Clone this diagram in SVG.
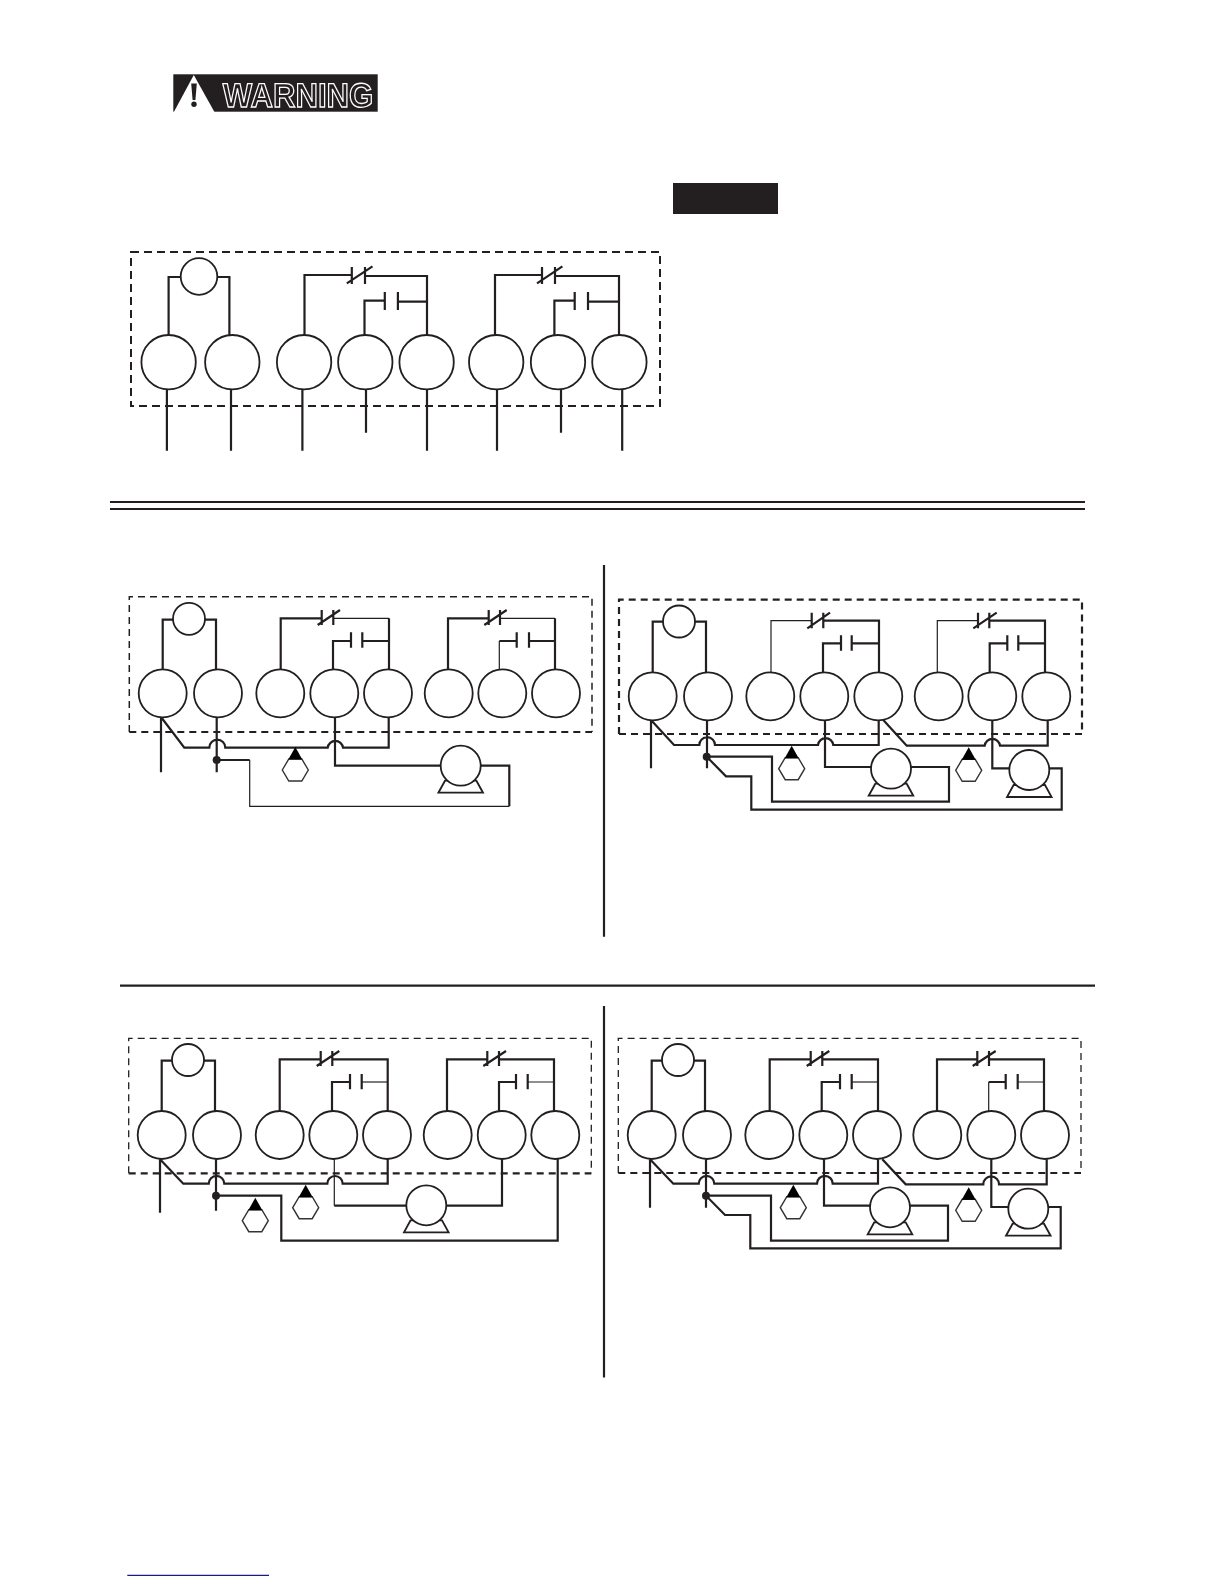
<svg xmlns="http://www.w3.org/2000/svg" width="1224" height="1584" viewBox="0 0 1224 1584">
<style>
.w{fill:none;stroke:#231f20;stroke-width:2.2}
.t{fill:none;stroke:#231f20;stroke-width:1.2}
.n{fill:#fff;stroke:#231f20;stroke-width:1.8}
.d{fill:none;stroke:#231f20;stroke-width:2;stroke-dasharray:8 5}
.m{fill:none;stroke:#231f20;stroke-width:1.5;stroke-dasharray:7 5}
.l{fill:none;stroke:#231f20;stroke-width:1.3;stroke-dasharray:7 5}
.b{fill:none;stroke:#231f20;stroke-width:2.2;stroke-dasharray:7 5}
.r{stroke:#231f20;stroke-width:2.2}
.k{fill:#231f20}
.tri{fill:#000}
.hex{fill:#fff;stroke:#333;stroke-width:1.4}
.foot{fill:none;stroke:#231f20;stroke-width:1.8}
</style>
<defs>
<filter id="gray" x="0" y="0" width="1" height="1"><feOffset dx="0" dy="0"/></filter>
<g id="haz"><polygon class="hex" points="-13,11 -6.5,0 6.5,0 13,11 6.5,22 -6.5,22"/><polygon class="tri" points="0,-12 -7,0.5 7,0.5"/></g>
<g id="mot"><polygon class="foot" points="-15.7,15 -22.3,27 22.3,27 15.7,15"/><circle class="n" r="20"/></g>
</defs>

<g id="warning">
<rect x="173.3" y="74.3" width="204.4" height="37.4" fill="#231f20"/>
<polygon points="193.8,75 173.3,113 215,113" fill="#fff"/>
<polygon points="191.2,83.5 196.8,83.5 195.4,100 192.6,100" fill="#231f20"/>
<circle cx="194" cy="104.2" r="2.7" fill="#231f20"/>
<g filter="url(#gray)"><text x="222.7" y="106.7" font-family="'Liberation Sans',Arial,sans-serif" font-weight="bold" font-size="34" textLength="150.6" lengthAdjust="spacingAndGlyphs" fill="#231f20" stroke="#fff" stroke-width="1.3" text-rendering="geometricPrecision">WARNING</text></g>
</g>
<rect id="black-box" x="673" y="183" width="105" height="31" fill="#231f20"/>

<g id="rules">
<line class="r" x1="110" y1="502" x2="1085" y2="502"/>
<line class="r" x1="110" y1="509" x2="1085" y2="509"/>
<line class="r" x1="120" y1="985.7" x2="1095" y2="985.7"/>
<line class="r" x1="604" y1="565" x2="604" y2="936.7"/>
<line class="r" x1="604" y1="1006" x2="604" y2="1377.5"/>
<line x1="127.3" y1="1575.3" x2="269" y2="1575.3" stroke="#1a1a8c" stroke-width="1.2"/>
</g>

<g id="connectors">
<!-- top -->
<rect class="d" x="131" y="252" width="529" height="154"/>
<path class="w" d="M168.6 335V277H181M217 277H229.4V335"/>
<path class="w" d="M304.5 335V275H351M351.8 267V284M365 267V284M346.8 283.3L372.5 266.3M365 276H427V335"/>
<path class="w" d="M364.5 335V300.7H384.8M384.8 292V310M397.9 292V310M397.9 301.7H427"/>
<path class="w" d="M495 335V275H542M542 267V284M555 267V284M537 283.3L562.4 266.3M555 276H619V335"/>
<path class="w" d="M554.4 335V300.7H574.7M574.7 292V310M588 292V310M588 301.7H619"/>
<path class="w" d="M166.9 389V450.7M231 389V450.7M302.4 389V450.7M366 389V432.7M427 389V450.7M497 389V450.7M561 389V432.7M622.2 389V450.7"/>

<!-- A -->
<path class="m" d="M129.3 732V596.7H592V732"/>
<path class="b" d="M129.3 732H592"/>
<path class="w" d="M162.7 670V619.7H173M205 619.7H216V670"/>
<path class="w" d="M280.7 670V618.3H321.7M321.7 610V625M333.3 610V625M317.7 625L340 610"/>
<path class="t" d="M333.3 618.3H389"/>
<path class="w" d="M389 618.3V670M333 670V641H351M351 632.3V647.7M362.3 632.3V647.7M362.3 641H389"/>
<path class="w" d="M448 670V618.3H488.7M488.7 610V625M500 610V625M484.3 625L506.7 610"/>
<path class="t" d="M500 618.3H555M499.3 670V641"/>
<path class="w" d="M555 618.3V670M499.3 641H516.7M516.7 632.3V647.7M529 632.3V647.7M529 641H555"/>
<path class="w" d="M161 717V772.3M216.7 717V772.3M161 717L184.3 747.7H209.3A8 8 0 0 1 225.3 747.7H327.7A7.7 7.7 0 0 1 343 747.7H388.7V717.3M335 717V765.7H440.7"/>
<path class="w" d="M480.7 765.7H509.3V806.3"/>
<path class="t" d="M509.3 806.3H249.7V760"/>
<path class="w" d="M249.7 760H216.7"/>
<circle class="k" cx="216.7" cy="760" r="4"/>

<!-- B -->
<path class="b" d="M619 734V599.7H1082V734"/>
<path class="b" d="M619 734H1082"/>
<path class="w" d="M652.7 672V621.7H663M695 621.7H706V672"/>
<path class="t" d="M771 672V620.7H811.7"/>
<path class="w" d="M811.7 612.7V628.3M823.3 612.7V628.3M807.3 628.3L830 612.7M823.3 620.7H879V672.3"/>
<path class="w" d="M823 672.3V643.3H841M841 635.3V650.7M851.7 635.3V650.7M851.7 643.3H879"/>
<path class="t" d="M937.3 672V620.7H978"/>
<path class="w" d="M978 612.7V628.3M989.3 612.7V628.3M973.3 628.3L996.7 612.7M989.3 620.7H1045V672.3"/>
<path class="w" d="M989.7 672.3V643.3H1007.3M1007.3 635.3V650.7M1018.3 635.3V650.7M1018.3 643.3H1045"/>
<path class="w" d="M651 720V768.3M707 720V768.3M651 720L674 745H699.3A7.8 7.8 0 0 1 715 745H818A7.7 7.7 0 0 1 833.3 745H878.7V720M825 720V767H871M911 767H949V801.7H772V756.7H706.7L726 776.3H751.3V809.7H1061.7V768.3H1049.3"/>
<path class="w" d="M992.3 720V768.3H1009.3M883.3 720L906.7 745.7H984.7A7.7 7.7 0 0 1 1000 745.7H1047.7V720"/>
<circle class="k" cx="706.7" cy="756.7" r="4"/>

<!-- C -->
<path class="l" d="M128.7 1173.3V1038.3H591.3V1173.3"/>
<path class="b" d="M128.7 1173.3H591.3"/>
<path class="w" d="M161.7 1111V1060.7H172M204 1060.7H215V1111"/>
<path class="w" d="M279.7 1111V1059.3H320.7M320.7 1051V1066M332.3 1051V1066M316.7 1066L339.3 1051M332.3 1059.3H387.7V1111"/>
<path class="w" d="M332 1111V1082H350M350 1074V1089.3M361.7 1074V1089.3"/>
<path class="t" d="M361.7 1082H387.7"/>
<path class="w" d="M447 1111V1059.3H487.3M487.3 1051V1066M499 1051V1066M483.3 1066L506 1051M499 1059.3H554V1111"/>
<path class="w" d="M499 1111V1082H516M516 1074V1089.3M527.7 1074V1089.3"/>
<path class="t" d="M527.7 1082H554M334.3 1159V1205.7"/>
<path class="w" d="M334.3 1205.7H406.7M160 1159.3V1212.7M216 1159.3V1210.7M160 1159.3L183.3 1183.7H208.7A7.8 7.8 0 0 1 224.3 1183.7H327.3A7.7 7.7 0 0 1 342.7 1183.7H387.7V1159M446.3 1205.7H502V1158.3M216 1195.7H281.3V1240.7H557.7V1158.3"/>
<circle class="k" cx="216" cy="1195.7" r="4"/>

<!-- D -->
<path class="l" d="M618.3 1173V1038.3H1081V1173"/>
<path class="b" d="M618.3 1173H1081"/>
<path class="w" d="M651.7 1111V1060.7H662M694 1060.7H705V1111"/>
<path class="w" d="M769.7 1111V1059.3H810.7M810.7 1051V1066M822.3 1051V1066M806.7 1066L829.3 1051M822.3 1059.3H878V1111"/>
<path class="w" d="M821.7 1111V1082H840M840 1074V1089.3M851.7 1074V1089.3"/>
<path class="t" d="M851.7 1082H878"/>
<path class="w" d="M937 1111V1059.3H977.3M977.3 1051V1066M989 1051V1066M972.7 1066L995.7 1051M989 1059.3H1044V1111"/>
<path class="t" d="M988.7 1111V1082M1017.7 1082H1044"/>
<path class="w" d="M988.7 1082H1005.7M1005.7 1074V1089.3M1017.7 1074V1089.3"/>
<path class="w" d="M650 1159.3V1207.7M706 1159.3V1207.7M650 1159.3L673.3 1183.7H698.7A7.8 7.8 0 0 1 714.3 1183.7H817A7.8 7.8 0 0 1 832.7 1183.7H878V1159.3M824 1159.3V1205.7H870M910 1205.7H948V1240.7H771V1195.7H706L725 1215H750.3V1248.3H1060.7V1207H1048.3"/>
<path class="w" d="M991.3 1159.3V1207H1008.3M882.3 1159.3L905.7 1184.3H983.3A7.8 7.8 0 0 1 999 1184.3H1046.7V1159.3"/>
<circle class="k" cx="706" cy="1195.7" r="4"/>
</g>

<g id="top-nodes">
<circle id="top-lamp" class="n" cx="199" cy="276.5" r="18.3"/>
<circle id="top-t1" class="n" cx="168.6" cy="362.2" r="27.2"/>
<circle id="top-t2" class="n" cx="232.3" cy="362.2" r="27.2"/>
<circle id="top-t3" class="n" cx="304.1" cy="362.2" r="27.2"/>
<circle id="top-t4" class="n" cx="365.3" cy="362.2" r="27.2"/>
<circle id="top-t5" class="n" cx="426.6" cy="362.2" r="27.2"/>
<circle id="top-t6" class="n" cx="496.2" cy="362.2" r="27.2"/>
<circle id="top-t7" class="n" cx="558" cy="362.2" r="27.2"/>
<circle id="top-t8" class="n" cx="619.4" cy="362.2" r="27.2"/>
</g>

<g id="a-nodes">
<circle id="a-lamp" class="n" cx="189" cy="618.8" r="16"/>
<circle id="a-t1" class="n" cx="162.7" cy="693.3" r="24"/>
<circle id="a-t2" class="n" cx="218" cy="693.3" r="24"/>
<circle id="a-t3" class="n" cx="280.3" cy="693.3" r="24"/>
<circle id="a-t4" class="n" cx="334.3" cy="693.3" r="24"/>
<circle id="a-t5" class="n" cx="388" cy="693.3" r="24"/>
<circle id="a-t6" class="n" cx="448.7" cy="693.3" r="24"/>
<circle id="a-t7" class="n" cx="502.3" cy="693.3" r="24"/>
<circle id="a-t8" class="n" cx="556" cy="693.3" r="24"/>
<use id="a-motor" href="#mot" x="460.7" y="765.7"/>
<use id="a-haz" href="#haz" x="295.3" y="759"/>
</g>

<g id="b-nodes">
<circle id="b-lamp" class="n" cx="679" cy="621.5" r="16"/>
<circle id="b-t1" class="n" cx="652.7" cy="696.3" r="24"/>
<circle id="b-t2" class="n" cx="708" cy="696.3" r="24"/>
<circle id="b-t3" class="n" cx="770.3" cy="696.3" r="24"/>
<circle id="b-t4" class="n" cx="824.3" cy="696.3" r="24"/>
<circle id="b-t5" class="n" cx="878.3" cy="696.3" r="24"/>
<circle id="b-t6" class="n" cx="938.7" cy="696.3" r="24"/>
<circle id="b-t7" class="n" cx="992.3" cy="696.3" r="24"/>
<circle id="b-t8" class="n" cx="1046.3" cy="696.3" r="24"/>
<use id="b-motor1" href="#mot" x="891" y="768.7"/>
<use id="b-motor2" href="#mot" x="1029.3" y="770"/>
<use id="b-haz1" href="#haz" x="791.7" y="757.7"/>
<use id="b-haz2" href="#haz" x="968.7" y="759.3"/>
</g>

<g id="c-nodes">
<circle id="c-lamp" class="n" cx="188" cy="1060" r="16"/>
<circle id="c-t1" class="n" cx="161.7" cy="1135" r="24"/>
<circle id="c-t2" class="n" cx="217" cy="1135" r="24"/>
<circle id="c-t3" class="n" cx="279.7" cy="1135" r="24"/>
<circle id="c-t4" class="n" cx="333.3" cy="1135" r="24"/>
<circle id="c-t5" class="n" cx="387" cy="1135" r="24"/>
<circle id="c-t6" class="n" cx="447.7" cy="1135" r="24"/>
<circle id="c-t7" class="n" cx="501.7" cy="1135" r="24"/>
<circle id="c-t8" class="n" cx="555.3" cy="1135" r="24"/>
<use id="c-motor" href="#mot" x="426.3" y="1205.3"/>
<use id="c-haz1" href="#haz" x="255.3" y="1209.7"/>
<use id="c-haz2" href="#haz" x="305.7" y="1196.7"/>
</g>

<g id="d-nodes">
<circle id="d-lamp" class="n" cx="678" cy="1060" r="16"/>
<circle id="d-t1" class="n" cx="651.7" cy="1135" r="24"/>
<circle id="d-t2" class="n" cx="707" cy="1135" r="24"/>
<circle id="d-t3" class="n" cx="769.3" cy="1135" r="24"/>
<circle id="d-t4" class="n" cx="823.3" cy="1135" r="24"/>
<circle id="d-t5" class="n" cx="877" cy="1135" r="24"/>
<circle id="d-t6" class="n" cx="937.3" cy="1135" r="24"/>
<circle id="d-t7" class="n" cx="991.3" cy="1135" r="24"/>
<circle id="d-t8" class="n" cx="1045" cy="1135" r="24"/>
<use id="d-motor1" href="#mot" x="890" y="1207.3"/>
<use id="d-motor2" href="#mot" x="1028.3" y="1208.7"/>
<use id="d-haz1" href="#haz" x="793.3" y="1196.7"/>
<use id="d-haz2" href="#haz" x="968.7" y="1199.3"/>
</g>
</svg>
